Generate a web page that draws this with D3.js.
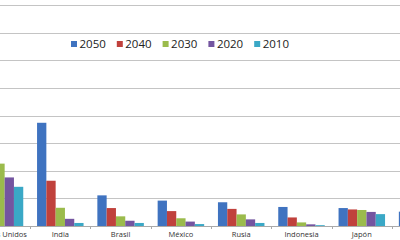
<!DOCTYPE html>
<head>
  <meta charset="utf-8">
  <script src="https://d3js.org/d3.v7.min.js"></script>
  <style>
    body { margin: 0; background: #fff; }
    svg { display: block; font-family: "Open Sans", "Liberation Sans", sans-serif; }
    .grid line { stroke: #c4c4c4; stroke-width: 1.2; }
    .cat { font-size: 7.5px; fill: #333; }
    .legend text { font-size: 11.5px; fill: #222; }
  </style>
</head>
<body>
  <svg width="400" height="240"></svg>
  <script>
  // Data (the left and right ends of the chart are cut off in the picture)
  var countries = ["Estados Unidos", "India", "Brasil", "México", "Rusia", "Indonesia", "Japón", "Filipinas"];
  var years = ["2050", "2040", "2030", "2020", "2010"];
  var v2050 = [150, 187, 55.5, 46, 43, 34.5, 32.5, 26];
  var v2040 = [130, 82, 32.5, 27, 31, 15.5, 30, 20];
  var v2030 = [113, 33, 17.5, 14, 21, 6.5, 29, 15];
  var v2020 = [88, 13, 9.5, 8, 12, 3, 25.5, 10];
  var v2010 = [71, 5.5, 5.5, 3.5, 5.5, 1.5, 21.5, 6];
  var gridTicks = [0, 50, 100, 150, 200, 250, 300, 350, 400];
  var colors = ["#3f73c0", "#c0413c", "#9bbb4c", "#7455a0", "#3aa8c6"];

  var series = [v2050, v2040, v2030, v2020, v2010];
  var svg = d3.select('svg');

  var step = 60.3;
  var x0 = d3.scaleBand()
    .domain(countries)
    .range([-step / 2, -step / 2 + step * countries.length]);
  var x1 = d3.scaleBand()
    .domain(years)
    .range([6.9, step - 6.9]);
  var y = d3.scaleLinear().domain([0, 400]).range([226, 5.2]);

  // gridlines
  svg.append('g').attr('class', 'grid')
    .selectAll('line').data(gridTicks.slice(1)).enter().append('line')
    .attr('x1', 0).attr('x2', 400)
    .attr('y1', function(d) { return Math.round(y(d)) + 0.5; })
    .attr('y2', function(d) { return Math.round(y(d)) + 0.5; });

  // bars
  countries.forEach(function(c, i) {
    var g = svg.append('g').attr('transform', 'translate(' + x0(c) + ',0)');
    years.forEach(function(yr, k) {
      g.append('rect')
        .attr('x', x1(yr))
        .attr('width', x1.bandwidth())
        .attr('y', y(series[k][i]))
        .attr('height', y(0) - y(series[k][i]))
        .attr('fill', colors[k]);
    });
  });

  // baseline and ticks
  svg.append('line')
    .attr('x1', 0).attr('x2', 400)
    .attr('y1', y(0) + 0.5).attr('y2', y(0) + 0.5)
    .attr('stroke', '#aaa');
  svg.append('g').selectAll('line').data(countries).enter().append('line')
    .attr('x1', function(d) { return Math.round(x0(d)) + 0.5; })
    .attr('x2', function(d) { return Math.round(x0(d)) + 0.5; })
    .attr('y1', y(0)).attr('y2', y(0) + 3)
    .attr('stroke', '#aaa');

  svg.append('g').selectAll('text').data(countries).enter().append('text')
    .attr('class', 'cat')
    .attr('x', function(d) { return x0(d) + step / 2; })
    .attr('y', 237)
    .attr('text-anchor', 'middle')
    .text(function(d) { return d; });

  // legend
  var legend = svg.append('g').attr('class', 'legend');
  years.forEach(function(yr, k) {
    var lx = 71 + k * 45.8;
    legend.append('rect')
      .attr('x', lx).attr('y', 41).attr('width', 6).attr('height', 6)
      .attr('fill', colors[k]);
    legend.append('text')
      .attr('x', lx + 8.5).attr('y', 47.5)
      .text(yr);
  });
  </script>
</body>
